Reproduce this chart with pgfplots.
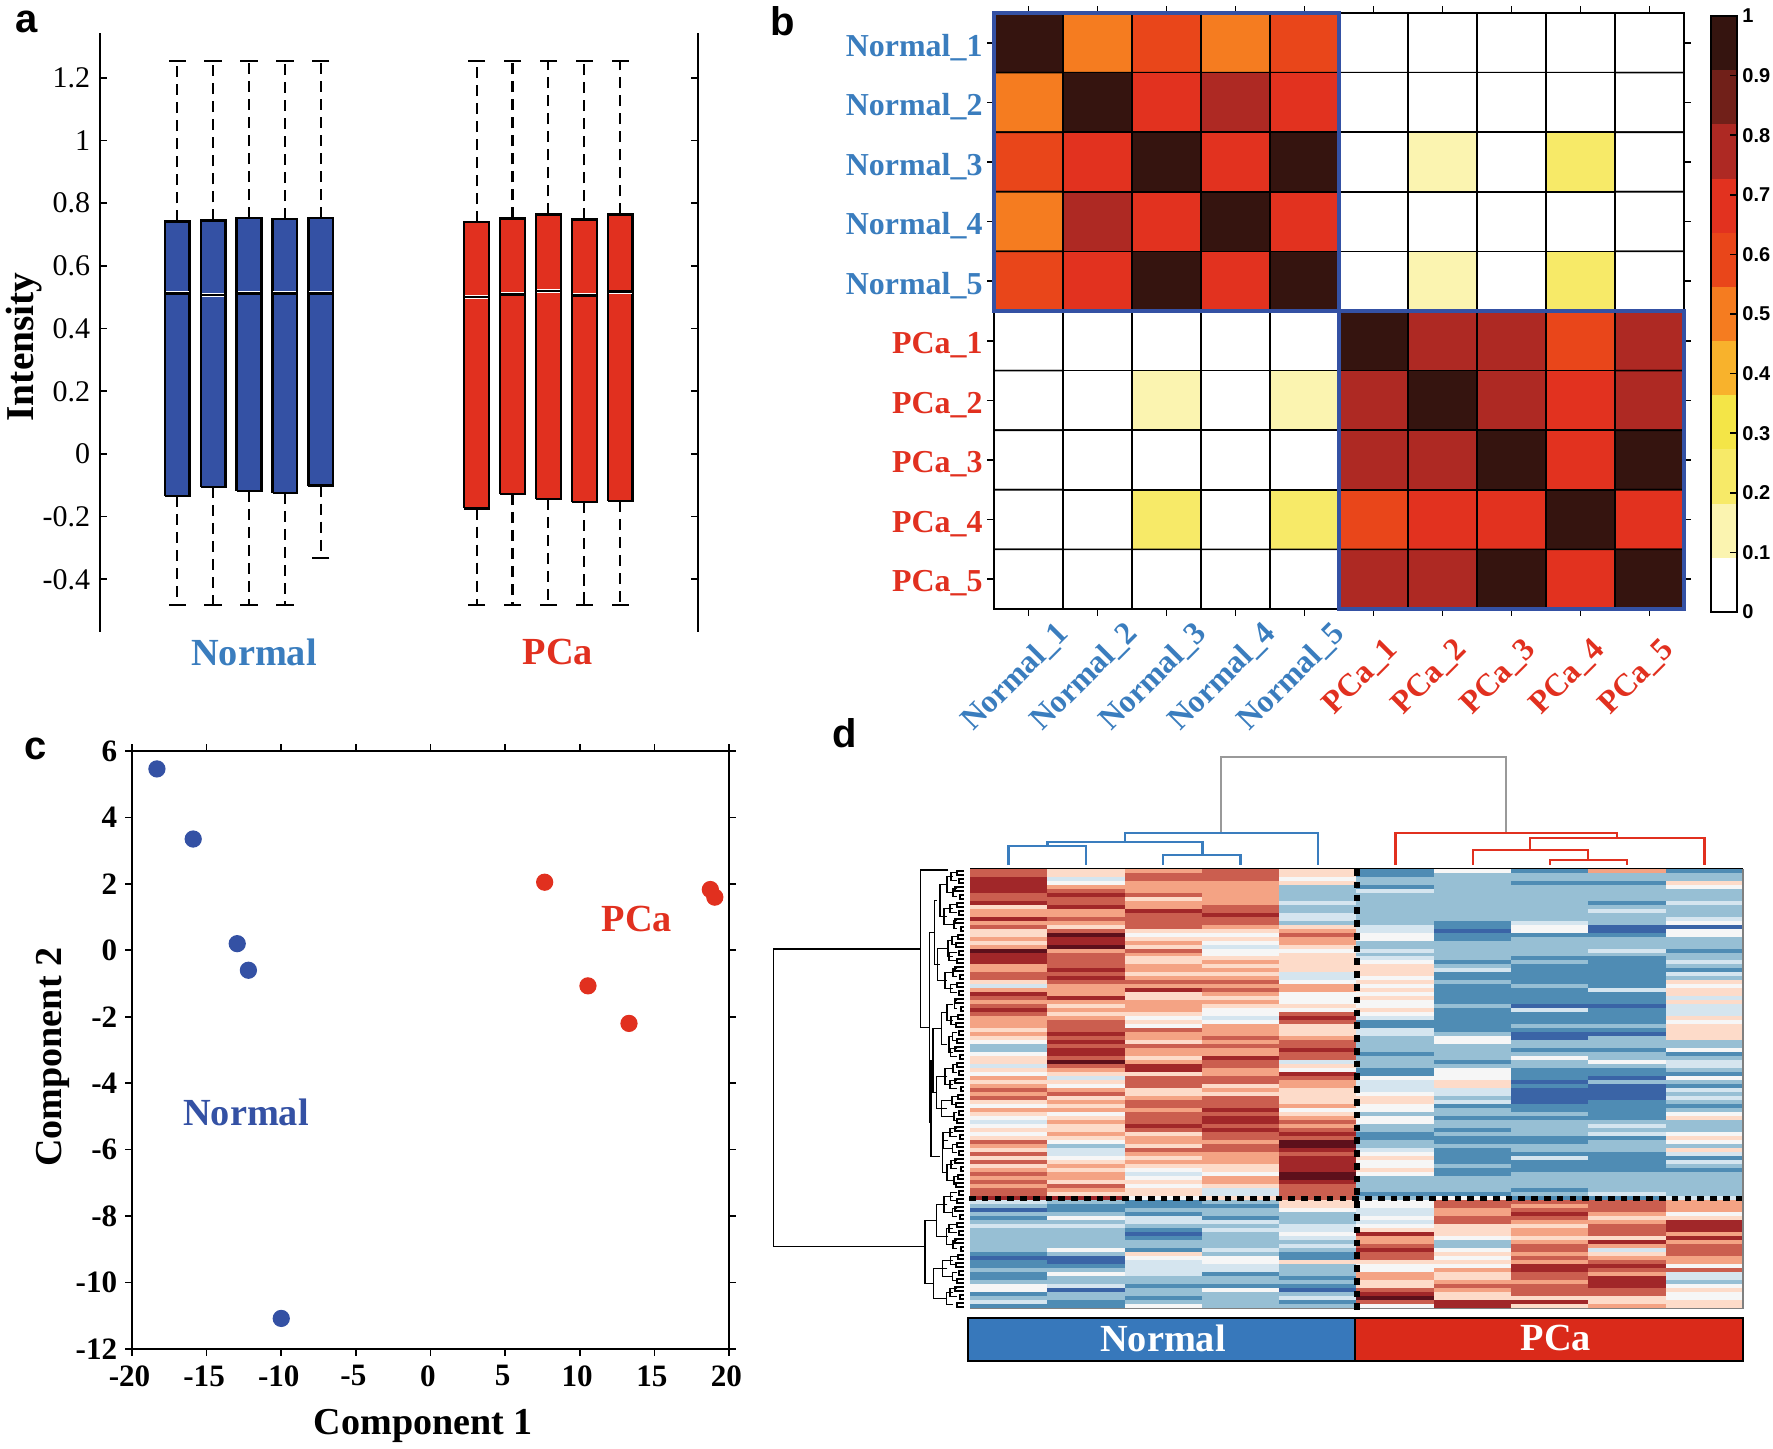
\documentclass[border=0pt]{standalone}
\usepackage{fontspec}
\usepackage{pgfplots}
\usepackage{pgfplotstable}
\pgfplotsset{compat=1.18}
\setmainfont{Liberation Serif}
\newfontfamily\hv{Liberation Sans}

\definecolor{nblue}{HTML}{3451A4}
\definecolor{lblue}{HTML}{3A7DBE}
\definecolor{pred}{HTML}{E1301F}
\definecolor{barblue}{HTML}{3778BB}
\definecolor{barred}{HTML}{DA2A1A}

\newcommand\fs[1]{\fontsize{#1}{#1}\selectfont}

% heat map levels: 0 dark blue ... 9 darkest red
\pgfplotsset{
  colormap={rdbu}{rgb255=(58,100,166) rgb255=(79,140,180) rgb255=(151,191,212) rgb255=(213,229,239) rgb255=(246,246,246) rgb255=(253,219,201) rgb255=(244,163,132) rgb255=(203,94,79) rgb255=(161,39,41) rgb255=(93,16,27)},
  colormap={hotm}{rgb255=(255,255,255) rgb255=(251,244,176) rgb255=(247,234,104) rgb255=(244,229,71) rgb255=(248,178,44) rgb255=(245,124,32) rgb255=(233,70,26) rgb255=(226,50,31) rgb255=(174,41,35) rgb255=(113,32,25) rgb255=(53,20,15)},
  % left, top, right, bottom in pixels of the reference
  pxbox/.style n args={4}{at={(#1*0.36pt,{(1449-#4)*0.36pt})}, anchor=south west, scale only axis,
    width={(#3-#1)*0.36pt}, height={(#4-#2)*0.36pt}},
  /pgf/number format/assume math mode=true,
  tick style={black,line width=0.6pt},
  major tick length=2.4pt,
  % box of panel a: draw position is read from the coordinates
  bx/.style={draw=black,line width=0.85pt,fill=#1},
}

% one line per column of panel d, 110 rows from the top
\pgfplotstableread[header=false]{
7 7 8 8 8 8 7 7 8 5  6 6 8 6 7 5 5 6 5 6  9 8 8 8 6 6 7 7 5 3  6 8 7 6 7 8 7 6 6 6  5 6 5 4 2 2 4 5 5 3  5 4 6 5 6 7 6 7 5 4  6 5 4 3 4 5 4 5 7 6  5 7 5 7 5 6 7 6 7 6  7 7 8 3 2 0 2 1 2 3  2 2 2 2 2 2 1 0 1 1  2 1 1 2 4 4 1 2 3 1
5 5 3 4 6 7 8 7 7 8  6 6 7 6 5 7 9 8 8 9  6 7 7 7 7 8 7 8 7 6  6 6 8 6 5 6 5 6 7 7  7 8 7 8 7 8 8 7 9 7  6 5 3 5 4 6 7 5 6 5  6 4 5 6 5 5 6 5 4 2  3 3 4 5 6 5 6 6 5 7  6 5 8 2 1 1 2 4 2 3  2 2 2 2 2 4 2 0 0 1  2 4 2 2 3 0 2 2 1 1
6 7 7 6 6 6 7 5 6 6  8 7 7 7 7 5 4 5 6 5  7 6 5 5 6 6 5 6 7 6  8 5 5 6 6 6 5 4 5 4  7 6 6 5 7 6 6 5 6 8  8 5 7 7 7 5 5 6 7 7  6 7 7 7 8 7 5 6 6 5  7 6 5 6 5 4 3 4 5 4  5 5 4 1 1 2 1 3 3 2  1 0 1 2 2 1 5 4 3 3  3 3 2 2 1 2 2 1 2 4
7 7 7 6 6 6 6 6 6 7  7 8 7 7 6 5 4 5 4 3  4 4 5 6 5 6 5 6 7 6  7 6 5 6 5 4 4 3 4 6  6 6 7 6 7 6 6 8 7 7  6 6 7 7 5 6 5 7 7 7  8 7 8 8 7 8 7 7 6 7  7 6 6 6 5 5 4 6 6 5  3 3 5 2 1 2 2 1 3 2  3 2 2 2 2 3 2 4 4 3  3 1 2 2 1 4 2 2 2 2
5 5 4 5 2 2 2 2 3 2  2 3 3 2 5 6 7 6 6 5  4 5 5 5 5 5 3 3 4 6  6 4 4 4 5 4 7 8 7 5  5 5 6 7 7 8 7 7 3 5  4 8 7 6 6 5 5 5 5 6  4 5 6 7 6 7 8 7 9 9  8 7 8 8 8 8 9 9 8 7  7 7 7 5 5 4 2 2 2 3  3 4 3 2 3 2 1 1 5 2  2 2 1 2 1 0 2 3 1 2
1 1 2 2 1 3 2 2 2 2  2 2 2 2 3 3 4 4 2 2  3 2 3 4 5 5 5 4 5 4  5 4 5 4 4 5 4 3 1 1  3 3 2 2 2 2 1 2 2 2  1 1 4 3 3 3 4 5 5 4  4 2 4 4 2 2 1 1 2 2  3 4 5 4 4 5 4 2 2 2  2 1 2 4 4 3 3 4 3 4  5 8 6 6 7 8 7 7 5 4  4 6 6 5 5 7 8 9 7 4
4 2 2 2 2 2 2 2 2 2  2 2 2 1 1 0 1 1 2 2  2 2 2 1 2 3 1 1 2 1  1 1 1 1 2 1 1 1 1 1  1 2 4 4 2 2 2 2 1 2  4 4 4 5 5 3 3 2 3 1  2 2 1 2 2 1 2 1 1 2  1 1 1 1 2 1 1 2 2 2  2 1 4 7 7 6 6 7 7 5  5 5 4 2 2 4 5 4 5 4  6 5 5 6 7 6 5 5 8 8
1 2 2 1 2 2 2 2 2 2  2 2 2 3 4 4 1 2 2 2  2 2 1 2 1 1 1 1 1 2  1 1 1 1 0 3 1 1 1 2  1 0 0 2 2 1 2 4 2 2  1 1 1 0 1 0 0 0 0 1  1 2 1 2 2 2 2 1 1 2  2 1 3 1 1 1 2 2 2 2  1 2 1 7 6 7 8 7 6 5  6 6 5 6 7 7 6 7 6 8  8 7 7 6 7 7 7 5 8 5
6 2 2 1 2 2 2 2 1 2  3 2 2 2 0 0 1 2 2 2  3 2 1 1 1 1 1 1 1 1  3 1 1 1 0 1 1 1 1 2  1 0 2 2 2 1 2 2 4 2  1 1 0 2 0 0 0 0 1 1  1 1 1 2 3 2 3 1 2 2  2 1 1 1 1 1 2 2 2 2  2 3 1 7 7 7 6 5 6 7  7 7 5 8 6 3 5 6 7 8  7 6 8 8 8 7 7 5 5 6
1 2 2 5 4 2 2 2 3 2  2 2 3 4 0 4 4 2 2 2  1 2 2 3 2 1 3 2 5 4  5 5 3 5 3 3 3 5 4 5  5 5 5 2 2 4 1 2 3 3  2 1 4 2 1 3 2 3 2 1  2 4 5 2 2 2 4 5 4 2  5 3 1 3 2 1 2 2 2 2  2 2 3 6 6 6 4 5 8 8  8 6 8 6 7 7 7 6 6 4  7 3 3 2 4 5 4 4 5 5
}\heatraw
\pgfplotstabletranspose\heattab{\heatraw}

\begin{document}
\begin{tikzpicture}
\path[use as bounding box] (0,0) rectangle (638.28pt,521.64pt);

% ---- a: box plots
\begin{axis}[pxbox={100}{33}{698}{632},
  axis x line=none, axis y line=box,
  xmin=-1.15, xmax=15.507, ymin=-0.568, ymax=1.343,
  xtick=\empty,
  ytick={-0.4,-0.2,0,0.2,0.4,0.6,0.8,1,1.2},
  tick align=inside,
  yticklabel style={/pgf/number format/fixed,/pgf/number format/precision=1},
  tick label style={font=\fs{10.8}},
  axis line style={line width=0.7pt},
  ylabel={\bfseries\fs{14.2}Intensity},
  ylabel style={at={(axis description cs:-0.127,0.476)},anchor=center},
]
% whiskers
\addplot[black,line width=0.75pt,dash pattern=on 4pt off 2.5pt,unbounded coords=jump] coordinates {
(1,0.742)(1,1.255)(nan,nan)(1,-0.134)(1,-0.481)(nan,nan)
(2,0.745)(2,1.255)(nan,nan)(2,-0.105)(2,-0.481)(nan,nan)
(3,0.752)(3,1.255)(nan,nan)(3,-0.118)(3,-0.481)(nan,nan)
(4,0.749)(4,1.255)(nan,nan)(4,-0.124)(4,-0.481)(nan,nan)
(5,0.752)(5,1.255)(nan,nan)(5,-0.101)(5,-0.332)(nan,nan)
(9.34,0.739)(9.34,1.255)(nan,nan)(9.34,-0.174)(9.34,-0.481)(nan,nan)
(10.34,0.751)(10.34,1.255)(nan,nan)(10.34,-0.127)(10.34,-0.481)(nan,nan)
(11.34,0.764)(11.34,1.255)(nan,nan)(11.34,-0.144)(11.34,-0.481)(nan,nan)
(12.34,0.748)(12.34,1.255)(nan,nan)(12.34,-0.154)(12.34,-0.481)(nan,nan)
(13.34,0.764)(13.34,1.255)(nan,nan)(13.34,-0.150)(13.34,-0.481)
};
% boxes, lower to upper quartile
\addplot[bx=nblue] coordinates {(0.655,-0.134)(1.345,-0.134)(1.345,0.742)(0.655,0.742)(0.655,-0.134)};
\addplot[bx=nblue] coordinates {(1.655,-0.105)(2.345,-0.105)(2.345,0.745)(1.655,0.745)(1.655,-0.105)};
\addplot[bx=nblue] coordinates {(2.655,-0.118)(3.345,-0.118)(3.345,0.752)(2.655,0.752)(2.655,-0.118)};
\addplot[bx=nblue] coordinates {(3.655,-0.124)(4.345,-0.124)(4.345,0.749)(3.655,0.749)(3.655,-0.124)};
\addplot[bx=nblue] coordinates {(4.655,-0.101)(5.345,-0.101)(5.345,0.752)(4.655,0.752)(4.655,-0.101)};
\addplot[bx=pred] coordinates {(8.995,-0.174)(9.685,-0.174)(9.685,0.739)(8.995,0.739)(8.995,-0.174)};
\addplot[bx=pred] coordinates {(9.995,-0.127)(10.685,-0.127)(10.685,0.751)(9.995,0.751)(9.995,-0.127)};
\addplot[bx=pred] coordinates {(10.995,-0.144)(11.685,-0.144)(11.685,0.764)(10.995,0.764)(10.995,-0.144)};
\addplot[bx=pred] coordinates {(11.995,-0.154)(12.685,-0.154)(12.685,0.748)(11.995,0.748)(11.995,-0.154)};
\addplot[bx=pred] coordinates {(12.995,-0.150)(13.685,-0.150)(13.685,0.764)(12.995,0.764)(12.995,-0.150)};
% whisker caps
\addplot[only marks,mark=-,mark size=3.1pt,mark options={black,line width=0.7pt}] coordinates {
(1,1.255)(2,1.255)(3,1.255)(4,1.255)(5,1.255)(9.34,1.255)(10.34,1.255)(11.34,1.255)(12.34,1.255)(13.34,1.255)
(1,-0.481)(2,-0.481)(3,-0.481)(4,-0.481)(5,-0.332)(9.34,-0.481)(10.34,-0.481)(11.34,-0.481)(12.34,-0.481)(13.34,-0.481)};
% notch: white halo, then the median
\addplot[only marks,mark=-,mark size=4.1pt,mark options={white,line width=1.4pt}] coordinates {
(1,0.513)(2,0.507)(3,0.513)(4,0.513)(5,0.513)(9.34,0.501)(10.34,0.509)(11.34,0.520)(12.34,0.506)(13.34,0.517)};
\addplot[only marks,mark=-,mark size=4.3pt,mark options={black,line width=1pt}] coordinates {
(1,0.513)(2,0.507)(3,0.513)(4,0.513)(5,0.513)(9.34,0.501)(10.34,0.509)(11.34,0.520)(12.34,0.506)(13.34,0.517)};
\end{axis}

% ---- b: correlation matrix
\begin{axis}[pxbox={994}{13}{1684}{609},
  y dir=reverse, clip=false,
  xmin=0.5, xmax=10.5, ymin=0.5, ymax=10.5,
  colormap name=hotm, point meta min=0, point meta max=10,
  tick align=outside,
  xtick={1,...,10}, ytick={1,...,10},
  tick label style={font=\bfseries\fs{11.5}},
  xticklabels={\textcolor{lblue}{Normal\_1},\textcolor{lblue}{Normal\_2},\textcolor{lblue}{Normal\_3},\textcolor{lblue}{Normal\_4},\textcolor{lblue}{Normal\_5},\textcolor{pred}{PCa\_1},\textcolor{pred}{PCa\_2},\textcolor{pred}{PCa\_3},\textcolor{pred}{PCa\_4},\textcolor{pred}{PCa\_5}},
  yticklabels={\textcolor{lblue}{Normal\_1},\textcolor{lblue}{Normal\_2},\textcolor{lblue}{Normal\_3},\textcolor{lblue}{Normal\_4},\textcolor{lblue}{Normal\_5},\textcolor{pred}{PCa\_1},\textcolor{pred}{PCa\_2},\textcolor{pred}{PCa\_3},\textcolor{pred}{PCa\_4},\textcolor{pred}{PCa\_5}},
  xticklabel style={rotate=45,anchor=center,xshift=-19pt,yshift=-12.4pt},
  yticklabel style={xshift=1.8pt,yshift=-1.6pt},
  axis line style={line width=0.6pt},
]
\addplot[matrix plot*,draw=black,line width=0.6pt,mesh/cols=10,point meta=explicit]
  table[row sep=\\,x=x,y=y,meta=m]{x y m\\
1 1 10\\2 1 5\\3 1 6\\4 1 5\\5 1 6\\6 1 0\\7 1 0\\8 1 0\\9 1 0\\10 1 0\\
1 2 5\\2 2 10\\3 2 7\\4 2 8\\5 2 7\\6 2 0\\7 2 0\\8 2 0\\9 2 0\\10 2 0\\
1 3 6\\2 3 7\\3 3 10\\4 3 7\\5 3 10\\6 3 0\\7 3 1\\8 3 0\\9 3 2\\10 3 0\\
1 4 5\\2 4 8\\3 4 7\\4 4 10\\5 4 7\\6 4 0\\7 4 0\\8 4 0\\9 4 0\\10 4 0\\
1 5 6\\2 5 7\\3 5 10\\4 5 7\\5 5 10\\6 5 0\\7 5 1\\8 5 0\\9 5 2\\10 5 0\\
1 6 0\\2 6 0\\3 6 0\\4 6 0\\5 6 0\\6 6 10\\7 6 8\\8 6 8\\9 6 6\\10 6 8\\
1 7 0\\2 7 0\\3 7 1\\4 7 0\\5 7 1\\6 7 8\\7 7 10\\8 7 8\\9 7 7\\10 7 8\\
1 8 0\\2 8 0\\3 8 0\\4 8 0\\5 8 0\\6 8 8\\7 8 8\\8 8 10\\9 8 7\\10 8 10\\
1 9 0\\2 9 0\\3 9 2\\4 9 0\\5 9 2\\6 9 6\\7 9 7\\8 9 7\\9 9 10\\10 9 7\\
1 10 0\\2 10 0\\3 10 0\\4 10 0\\5 10 0\\6 10 8\\7 10 8\\8 10 10\\9 10 7\\10 10 10\\
};
\draw[nblue,line width=1.5pt] (axis cs:0.5,0.5) rectangle (axis cs:5.5,5.5);
\draw[nblue,line width=1.5pt] (axis cs:5.5,5.5) rectangle (axis cs:10.5,10.5);
\end{axis}

% ---- b: colour bar
\begin{axis}[pxbox={1711}{16}{1737}{612},
  xmin=0, xmax=1, ymin=0, ymax=1, axis on top,
  xtick=\empty, ytick={0,0.1,0.2,0.3,0.4,0.5,0.6,0.7,0.8,0.9,1},
  ytick pos=right, yticklabel pos=right, tick align=inside,
  yticklabel style={/pgf/number format/fixed,/pgf/number format/precision=1,xshift=-1.6pt},
  tick label style={font=\hv\bfseries\fs{7.2}},
  axis line style={line width=0.6pt},
]
\addplot[draw=none,fill={rgb,255:red,255;green,255;blue,255}] coordinates {(0,0)(1,0)(1,0.0909)(0,0.0909)};
\addplot[draw=none,fill={rgb,255:red,251;green,244;blue,176}] coordinates {(0,0.0909)(1,0.0909)(1,0.1818)(0,0.1818)};
\addplot[draw=none,fill={rgb,255:red,247;green,234;blue,104}] coordinates {(0,0.1818)(1,0.1818)(1,0.2727)(0,0.2727)};
\addplot[draw=none,fill={rgb,255:red,244;green,229;blue,71}] coordinates {(0,0.2727)(1,0.2727)(1,0.3636)(0,0.3636)};
\addplot[draw=none,fill={rgb,255:red,248;green,178;blue,44}] coordinates {(0,0.3636)(1,0.3636)(1,0.4545)(0,0.4545)};
\addplot[draw=none,fill={rgb,255:red,245;green,124;blue,32}] coordinates {(0,0.4545)(1,0.4545)(1,0.5455)(0,0.5455)};
\addplot[draw=none,fill={rgb,255:red,233;green,70;blue,26}] coordinates {(0,0.5455)(1,0.5455)(1,0.6364)(0,0.6364)};
\addplot[draw=none,fill={rgb,255:red,226;green,50;blue,31}] coordinates {(0,0.6364)(1,0.6364)(1,0.7273)(0,0.7273)};
\addplot[draw=none,fill={rgb,255:red,174;green,41;blue,35}] coordinates {(0,0.7273)(1,0.7273)(1,0.8182)(0,0.8182)};
\addplot[draw=none,fill={rgb,255:red,113;green,32;blue,25}] coordinates {(0,0.8182)(1,0.8182)(1,0.9091)(0,0.9091)};
\addplot[draw=none,fill={rgb,255:red,53;green,20;blue,15}] coordinates {(0,0.9091)(1,0.9091)(1,1)(0,1)};
\end{axis}

% ---- c: PCA scores
\begin{axis}[pxbox={132}{751}{729}{1349},
  xmin=-20, xmax=20, ymin=-12, ymax=6,
  xtick={-20,-15,...,20}, ytick={-12,-10,...,6},
  tick align=outside,
  tick label style={font=\bfseries\fs{11.2}},
  xticklabel style={xshift=-0.9pt},
  yticklabel style={xshift=0.6pt},
  axis line style={line width=0.6pt},
  xlabel={\bfseries\fs{13.7}Component 1},
  ylabel={\bfseries\fs{13.7}Component 2},
  xlabel style={at={(axis description cs:0.488,-0.129)},anchor=center},
  ylabel style={at={(axis description cs:-0.132,0.488)},anchor=center},
]
\addplot[only marks,mark=*,mark size=2.9pt,mark options={nblue,draw=none,fill=nblue}] coordinates {
(-18.33,5.46)(-15.9,3.35)(-12.95,0.2)(-12.2,-0.6)(-10,-11.08)};
\addplot[only marks,mark=*,mark size=2.9pt,mark options={pred,draw=none,fill=pred}] coordinates {
(7.65,2.05)(10.55,-1.07)(13.3,-2.2)(18.75,1.83)(19.05,1.6)};
\end{axis}

% ---- d: heat map
\begin{axis}[pxbox={970}{868.7}{1743}{1308.3},
  hide axis, y dir=reverse,
  xmin=-0.5, xmax=9.5, ymin=-0.5, ymax=109.5,
  colormap name=rdbu, point meta min=0, point meta max=9,
]
\pgfplotsinvokeforeach{0,...,9}{
  \addplot[scatter,only marks,mark=square*,mark size=1pt,
    mark options={xscale=13.9,yscale=0.74,line width=0.04pt},
    scatter/use mapped color={draw=mapped color,fill=mapped color},
    point meta=explicit]
    table[x expr=#1,y expr=\coordindex,meta=#1]{\heattab};
}
\end{axis}

% ---- d: row dendrogram, in a 660 x 1380 grid
\begin{axis}[pxbox={760}{860}{980}{1320},
  hide axis, y dir=reverse, clip=false,
  xmin=0, xmax=660, ymin=0, ymax=1380,
]
\addplot[black,line width=0.6pt,unbounded coords=jump] coordinates {
(481,268)(40,268)(40,1160)(495,1160)(nan,nan)
(565,30)(481,30)(481,503)(508,503)(nan,nan)
(523,218)(508,218)(508,788)(512,788)(nan,nan)
(518,602)(512,602)(512,890)(540,890)(nan,nan)
(530,122)(523,122)(523,314)(540,314)(nan,nan)
(545,506)(518,506)(518,698)(530,698)(nan,nan)
(530,1082)(495,1082)(495,1271)(520,1271)(nan,nan)
};
% level 4
\addplot[black,line width=0.6pt,unbounded coords=jump] coordinates {
(562,74)(541,74)(541,170)(560,170)(nan,nan)
(565,266)(533,266)(533,362)(562,362)(nan,nan)
(562,458)(545,458)(545,554)(560,554)(nan,nan)
(562,650)(530,650)(530,746)(560,746)(nan,nan)
(565,842)(548,842)(548,938)(562,938)(nan,nan)
(562,1034)(530,1034)(530,1130)(565,1130)(nan,nan)
(562,1226)(520,1226)(520,1316)(560,1316)(nan,nan)
};
% level 3
\addplot[black,line width=0.6pt,unbounded coords=jump] coordinates {
(578,50)(562,50)(562,98)(578,98)(nan,nan)
(578,146)(552,146)(552,194)(578,194)(nan,nan)
(578,242)(565,242)(565,290)(578,290)(nan,nan)
(578,338)(556,338)(556,386)(578,386)(nan,nan)
(578,434)(562,434)(562,482)(578,482)(nan,nan)
(578,530)(568,530)(568,578)(578,578)(nan,nan)
(578,626)(556,626)(556,674)(578,674)(nan,nan)
(578,722)(545,722)(545,770)(578,770)(nan,nan)
(578,818)(550,818)(550,866)(578,866)(nan,nan)
(578,914)(562,914)(562,962)(578,962)(nan,nan)
(578,1010)(552,1010)(552,1058)(578,1058)(nan,nan)
(578,1106)(560,1106)(560,1154)(578,1154)(nan,nan)
(578,1202)(548,1202)(548,1250)(578,1250)(nan,nan)
(578,1298)(560,1298)(560,1334)(578,1334)(nan,nan)
};
% level 2
\addplot[black,line width=0.6pt,unbounded coords=jump] coordinates {
(592,38)(574,38)(574,62)(592,62)(nan,nan)
(592,86)(580,86)(580,110)(592,110)(nan,nan)
(592,134)(570,134)(570,158)(592,158)(nan,nan)
(592,182)(582,182)(582,206)(592,206)(nan,nan)
(592,230)(576,230)(576,254)(592,254)(nan,nan)
(592,278)(568,278)(568,302)(592,302)(nan,nan)
(592,326)(580,326)(580,350)(592,350)(nan,nan)
(592,374)(572,374)(572,398)(592,398)(nan,nan)
(592,422)(584,422)(584,446)(592,446)(nan,nan)
(592,470)(574,470)(574,494)(592,494)(nan,nan)
(592,518)(578,518)(578,542)(592,542)(nan,nan)
(592,566)(572,566)(572,590)(592,590)(nan,nan)
(592,614)(580,614)(580,638)(592,638)(nan,nan)
(592,662)(570,662)(570,686)(592,686)(nan,nan)
(592,710)(576,710)(576,734)(592,734)(nan,nan)
(592,758)(582,758)(582,782)(592,782)(nan,nan)
(592,806)(570,806)(570,830)(592,830)(nan,nan)
(592,854)(578,854)(578,878)(592,878)(nan,nan)
(592,902)(574,902)(574,926)(592,926)(nan,nan)
(592,950)(582,950)(582,974)(592,974)(nan,nan)
(592,998)(572,998)(572,1022)(592,1022)(nan,nan)
(592,1046)(578,1046)(578,1070)(592,1070)(nan,nan)
(592,1094)(568,1094)(568,1118)(592,1118)(nan,nan)
(592,1142)(580,1142)(580,1166)(592,1166)(nan,nan)
(592,1190)(572,1190)(572,1214)(592,1214)(nan,nan)
(592,1238)(578,1238)(578,1262)(592,1262)(nan,nan)
(592,1286)(570,1286)(570,1310)(592,1310)(nan,nan)
};
% leaves
\addplot[black,line width=0.7pt,unbounded coords=jump] coordinates {
(611,32)(592,32)(592,44)(611,44)(nan,nan)(611,56)(598,56)(598,68)(611,68)(nan,nan)
(611,80)(586,80)(586,92)(611,92)(nan,nan)(611,104)(600,104)(600,116)(611,116)(nan,nan)
(611,128)(590,128)(590,140)(611,140)(nan,nan)(611,152)(596,152)(596,164)(611,164)(nan,nan)
(611,176)(584,176)(584,188)(611,188)(nan,nan)(611,200)(602,200)(602,212)(611,212)(nan,nan)
(611,224)(594,224)(594,236)(611,236)(nan,nan)(611,248)(588,248)(588,260)(611,260)(nan,nan)
(611,272)(598,272)(598,284)(611,284)(nan,nan)(611,296)(592,296)(592,308)(611,308)(nan,nan)
(611,320)(586,320)(586,332)(611,332)(nan,nan)(611,344)(600,344)(600,356)(611,356)(nan,nan)
(611,368)(590,368)(590,380)(611,380)(nan,nan)(611,392)(596,392)(596,404)(611,404)(nan,nan)
(611,416)(584,416)(584,428)(611,428)(nan,nan)(611,440)(602,440)(602,452)(611,452)(nan,nan)
(611,464)(594,464)(594,476)(611,476)(nan,nan)(611,488)(588,488)(588,500)(611,500)(nan,nan)
(611,512)(598,512)(598,524)(611,524)(nan,nan)(611,536)(592,536)(592,548)(611,548)(nan,nan)
(611,560)(586,560)(586,572)(611,572)(nan,nan)(611,584)(600,584)(600,596)(611,596)(nan,nan)
(611,608)(590,608)(590,620)(611,620)(nan,nan)(611,632)(596,632)(596,644)(611,644)(nan,nan)
(611,656)(584,656)(584,668)(611,668)(nan,nan)(611,680)(602,680)(602,692)(611,692)(nan,nan)
(611,704)(594,704)(594,716)(611,716)(nan,nan)(611,728)(588,728)(588,740)(611,740)(nan,nan)
(611,752)(598,752)(598,764)(611,764)(nan,nan)(611,776)(592,776)(592,788)(611,788)(nan,nan)
(611,800)(586,800)(586,812)(611,812)(nan,nan)(611,824)(600,824)(600,836)(611,836)(nan,nan)
(611,848)(590,848)(590,860)(611,860)(nan,nan)(611,872)(596,872)(596,884)(611,884)(nan,nan)
(611,896)(584,896)(584,908)(611,908)(nan,nan)(611,920)(602,920)(602,932)(611,932)(nan,nan)
(611,944)(594,944)(594,956)(611,956)(nan,nan)(611,968)(588,968)(588,980)(611,980)(nan,nan)
(611,992)(598,992)(598,1004)(611,1004)(nan,nan)(611,1016)(592,1016)(592,1028)(611,1028)(nan,nan)
(611,1040)(586,1040)(586,1052)(611,1052)(nan,nan)(611,1064)(600,1064)(600,1076)(611,1076)(nan,nan)
(611,1088)(590,1088)(590,1100)(611,1100)(nan,nan)(611,1112)(596,1112)(596,1124)(611,1124)(nan,nan)
(611,1136)(584,1136)(584,1148)(611,1148)(nan,nan)(611,1160)(602,1160)(602,1172)(611,1172)(nan,nan)
(611,1184)(594,1184)(594,1196)(611,1196)(nan,nan)(611,1208)(588,1208)(588,1220)(611,1220)(nan,nan)
(611,1232)(598,1232)(598,1244)(611,1244)(nan,nan)(611,1256)(592,1256)(592,1268)(611,1268)(nan,nan)
(611,1280)(586,1280)(586,1292)(611,1292)(nan,nan)(611,1304)(600,1304)(600,1316)(611,1316)(nan,nan)
(611,1328)(590,1328)(590,1340)(611,1340)
};
\end{axis}

% ---- overlay in reference pixels: column dendrogram, frames, texts
\begin{axis}[pxbox={0}{0}{1773}{1449},
  hide axis, y dir=reverse, clip=false,
  xmin=0, xmax=1773, ymin=0, ymax=1449,
]
\addplot[color={rgb,255:red,153;green,153;blue,153},line width=1pt] coordinates {(1221,833)(1221,757)(1506,757)(1506,833)};
\addplot[lblue,line width=0.8pt,unbounded coords=jump] coordinates {
(1125,842)(1125,833)(1318,833)(1318,865)(nan,nan)
(1047.5,846)(1047.5,842)(1202.5,842)(1202.5,855)(nan,nan)
(1008.6,865)(1008.6,846)(1086,846)(1086,865)(nan,nan)
(1163,865)(1163,855)(1240.5,855)(1240.5,865)
};
\addplot[pred,line width=0.8pt,unbounded coords=jump] coordinates {
(1395.6,865)(1395.6,833)(1617,833)(1617,838)(nan,nan)
(1530,850)(1530,838)(1704.5,838)(1704.5,865)(nan,nan)
(1473,865)(1473,850)(1588.3,850)(1588.3,860)(nan,nan)
(1550,865)(1550,860)(1627,860)(1627,865)
};
% edges and dotted lines of the heat map
\draw[black,line width=0.5pt] (axis cs:970,868.5) -- (axis cs:1743,868.5);
\draw[gray,line width=0.5pt] (axis cs:970,1308.5) -- (axis cs:1743,1308.5) -- (axis cs:1743,868.5);
\draw[black,line width=1.9pt,dash pattern=on 2.4pt off 2.2pt] (axis cs:969,1198.7) -- (axis cs:1746,1198.7);
\draw[black,line width=1.9pt,dash pattern=on 2.4pt off 2.2pt] (axis cs:1357,869) -- (axis cs:1357,1310);
% group bars
\draw[black,line width=1pt,fill=barblue] (axis cs:968,1318) rectangle (axis cs:1355,1361);
\draw[black,line width=1pt,fill=barred] (axis cs:1355,1318) rectangle (axis cs:1743,1361);
\node[white,font=\bfseries\fs{13.8}] at (axis cs:1163,1338) {Normal};
\node[white,font=\bfseries\fs{13.8}] at (axis cs:1556,1338) {PCa};
% labels of a and c
\node[lblue,font=\bfseries\fs{13.8}] at (axis cs:254,652) {Normal};
\node[pred,font=\bfseries\fs{13.8}] at (axis cs:558,652) {PCa};
\node[nblue,font=\bfseries\fs{13.8}] at (axis cs:246,1112) {Normal};
\node[pred,font=\bfseries\fs{13.8}] at (axis cs:637,919) {PCa};
% panel letters
\node[font=\hv\bfseries\fs{14.4}] at (axis cs:27,22) {a};
\node[font=\hv\bfseries\fs{14.4}] at (axis cs:783,21) {b};
\node[font=\hv\bfseries\fs{14.4}] at (axis cs:36,749) {c};
\node[font=\hv\bfseries\fs{14.4}] at (axis cs:845,733) {d};
\end{axis}
\end{tikzpicture}
\end{document}
